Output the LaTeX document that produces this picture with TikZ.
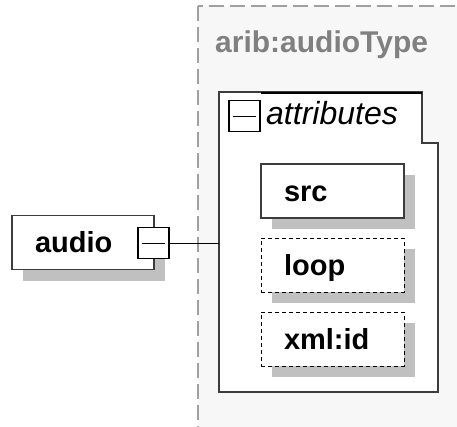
\documentclass[tikz,border=0pt]{standalone}
\usepackage{fontspec}
\setmainfont{Liberation Sans}
\usepackage{tikz}
\usetikzlibrary{positioning, shadows}
\definecolor{framegray}{RGB}{160, 160, 160}
\definecolor{typebg}{RGB}{247, 247, 247}
\definecolor{typetext}{RGB}{128, 128, 128}
\definecolor{edgegray}{RGB}{60, 60, 60}
\definecolor{shadowgray}{RGB}{192, 192, 192}

\begin{document}
\begin{tikzpicture}[
            x=1pt, y=-1pt,
            node distance=19pt,
            elembox/.style={draw=edgegray, line width=1.2pt, fill=white, minimum height=54pt,
                text width=97pt, inner xsep=23pt, align=left, text height=20pt, text depth=0pt,
                font=\fontsize{29}{29}\selectfont\bfseries,
                drop shadow={shadow xshift=11pt, shadow yshift=-11pt, fill=shadowgray, opacity=1}},
            optbox/.style={draw=black, line width=1pt, dash pattern=on 4pt off 3pt},
            expander/.style={draw=black, line width=1.5pt, fill=white, minimum width=31pt, minimum height=31pt,
                inner sep=0pt,
                path picture={\draw[line width=1pt] ([xshift=4pt]path picture bounding box.west) -- ([xshift=-4pt]path picture bounding box.east);}}
        ]
            \fill[white] (0,0) rectangle (457,426);
            \useasboundingbox (0,0) rectangle (457,426);

            % type frame
            \draw[framegray, fill=typebg, line width=1.5pt, dash pattern=on 15pt off 6pt] (198,6) rectangle (470,440);
            \node[anchor=base west, text=typetext, font=\fontsize{30}{30}\selectfont\bfseries, inner sep=0pt] (typename) at (215,52) {arib:audioType};

            % attributes compartment
            \draw[edgegray, line width=1.2pt, fill=white] (219,92) -- (422,92) -- (422,143) -- (438,143) -- (438,392) -- (219,392) -- cycle;
            \node[expander] (attrexp) at (244.5,116) {};
            \draw[black, line width=2.5pt] (attrexp.north east |- 0,93) -- (422,93);
            \node[anchor=base west, font=\fontsize{32}{32}\selectfont\itshape, inner sep=0pt] (attrlabel) at (266,124) {attributes};

            \node[elembox] (src) at (332.5,191) {src};
            \node[elembox, optbox, below=of src] (loop) {loop};
            \node[elembox, optbox, below=of loop] (xmlid) {xml:id};

            % element
            \node[elembox, text width=96pt] (audio) at (83,242.5) {audio};
            \node[expander] (audioexp) at (153.5,243) {};
            \coordinate (attrin) at (219,243);
            \draw[black, line width=1pt] (audioexp.east) -- (attrin);
        \end{tikzpicture}
\end{document}
